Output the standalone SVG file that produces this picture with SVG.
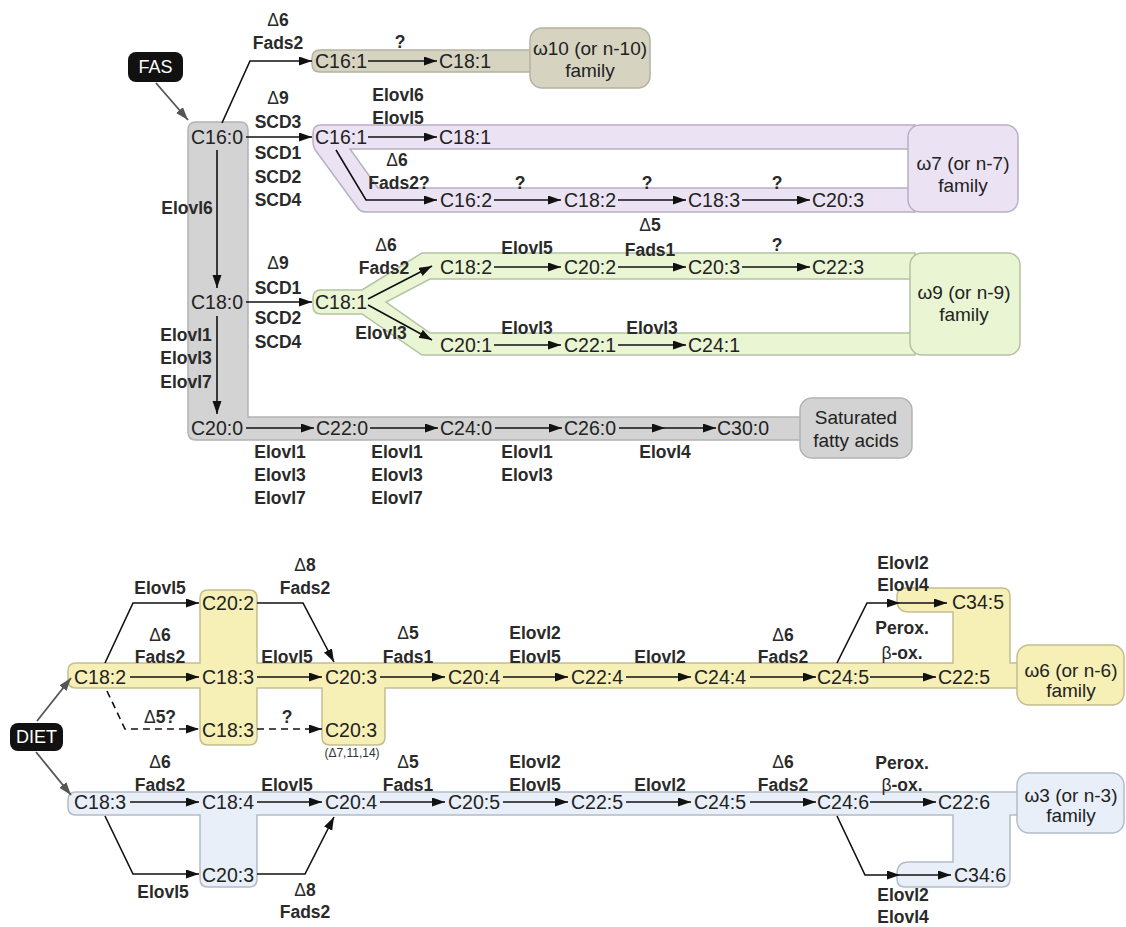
<svg xmlns="http://www.w3.org/2000/svg" width="1126" height="927" viewBox="0 0 1126 927">
<style>
.n{font-family:"Liberation Sans",Arial,sans-serif;font-size:19.5px;fill:#222;text-anchor:middle}
.f{font-family:"Liberation Sans",Arial,sans-serif;font-size:19px;fill:#222;text-anchor:middle}
.e{font-family:"Liberation Sans",Arial,sans-serif;font-size:17.5px;font-weight:bold;fill:#2a2a2a;text-anchor:middle}
.e tspan.r{font-weight:normal}
.sm{font-family:"Liberation Sans",Arial,sans-serif;font-size:12px;fill:#333;text-anchor:middle}
.w{font-family:"Liberation Sans",Arial,sans-serif;font-size:18px;fill:#fff;text-anchor:middle}
.c{stroke:#111;stroke-width:1.6;fill:none;marker-end:url(#ah)}
.d{stroke-dasharray:7 5}
.g{stroke:#555;stroke-width:1.8;fill:none;marker-end:url(#ahg)}
.b{stroke-width:1.5}
</style>
<defs>
<marker id="ah" markerUnits="userSpaceOnUse" markerWidth="14" markerHeight="10" refX="13" refY="4.5" orient="auto"><path d="M0,0 L13,4.5 L0,9 z" fill="#111"/></marker>
<marker id="ahg" markerUnits="userSpaceOnUse" markerWidth="14" markerHeight="10" refX="13" refY="4.5" orient="auto"><path d="M0,0 L13,4.5 L0,9 z" fill="#555"/></marker>
</defs>
<rect width="1126" height="927" fill="#fff"/>

<g id="bands">
<path class="b" d="M188,130 Q188,122 196,122 H240 Q248,122 248,130 V417 H805 V440 H196 Q188,440 188,432 Z" fill="#d3d3d3" stroke="#b3b3b3"/>
<path class="b" d="M320,50 H535 V72 H320 Q312,72 312,64 V58 Q312,50 320,50 Z" fill="#d6d4c1" stroke="#b4b2a0"/>
<path class="b" d="M321,125 H915 V149 H350 L378,188 H915 V212 H366 Q360,212 357,207 L316,151 Q313,147 313,141 V133 Q313,125 321,125 Z" fill="#ebe3f3" stroke="#b8b0c2"/>
<path class="b" d="M321,290 H362 L422,253 H915 V279 H430 L386,302 L430,333 H915 V355 H422 L362,314 H321 Q313,314 313,306 V298 Q313,290 321,290 Z" fill="#e9f5d3" stroke="#b3c2a3"/>
<path class="b" d="M76,663 H200 V598 Q200,590 208,590 H249 Q257,590 257,598 V663 H953 V612 H909 Q897,612 897,600 V596 Q897,588 905,588 H1002 Q1010,588 1010,596 V663 H1020 V688 H385 V737 Q385,745 377,745 H330 Q322,745 322,737 V688 H257 V737 Q257,745 249,745 H208 Q200,745 200,737 V688 H76 Q68,688 68,680 V671 Q68,663 76,663 Z" fill="#f7f0b6" stroke="#c4bd8e"/>
<path class="b" d="M76,792 H1020 V815 H1010 V879 Q1010,887 1002,887 H905 Q897,887 897,879 V874 Q897,862 909,862 H953 V815 H257 V879 Q257,887 249,887 H208 Q200,887 200,879 V815 H76 Q68,815 68,807 V800 Q68,792 76,792 Z" fill="#e8eff8" stroke="#b3bcc8"/>
</g>

<g id="connectors">
<path class="g" d="M156,83 L188,120"/>
<path class="c" d="M222,123 L250,61 L312,61"/>
<path class="c" d="M246,137 L312,137"/>
<path class="c" d="M217,150 L217,288"/>
<path class="c" d="M217,316 L217,414"/>
<path class="c" d="M246,302 L312,302"/>
<path class="c" d="M368,61 L437,61"/>
<path class="c" d="M368,137 L437,137"/>
<path class="c" d="M336,150 L366,200 L437,200"/>
<path class="c" d="M494,200 L561,200"/>
<path class="c" d="M618,200 L686,200"/>
<path class="c" d="M742,200 L810,200"/>
<path class="c" d="M368,299 L432,266"/>
<path class="c" d="M368,305 L432,340"/>
<path class="c" d="M494,267 L561,267"/>
<path class="c" d="M618,267 L686,267"/>
<path class="c" d="M742,267 L810,267"/>
<path class="c" d="M494,345 L561,345"/>
<path class="c" d="M618,345 L686,345"/>
<path class="c" d="M246,428 L314,428"/>
<path class="c" d="M370,428 L438,428"/>
<path class="c" d="M495,428 L562,428"/>
<path class="c" d="M619,428 L665,428"/>
<path class="c" d="M665,428 L716,428"/>

<path class="g" d="M37,721 L71,678"/>
<path class="g" d="M36,752 L71,795"/>
<path class="c" d="M130,677 L199,677"/>
<path class="c" d="M105,663 L133,603 L199,603"/>
<path class="c d" d="M107,691 L125,729 L199,729"/>
<path class="c" d="M257,677 L322,677"/>
<path class="c d" d="M257,729 L322,729"/>
<path class="c" d="M257,603 L303,603 L334,662"/>
<path class="c" d="M380,677 L445,677"/>
<path class="c" d="M503,677 L568,677"/>
<path class="c" d="M626,677 L691,677"/>
<path class="c" d="M750,677 L816,677"/>
<path class="c" d="M870,677 L936,677"/>
<path class="c" d="M837,663 L867,603 L900,603"/>
<path class="c" d="M900,603 L947,603"/>

<path class="c" d="M130,802 L199,802"/>
<path class="c" d="M257,802 L322,802"/>
<path class="c" d="M105,816 L133,874 L199,874"/>
<path class="c" d="M257,874 L305,874 L334,817"/>
<path class="c" d="M380,802 L445,802"/>
<path class="c" d="M503,802 L568,802"/>
<path class="c" d="M626,802 L691,802"/>
<path class="c" d="M750,802 L816,802"/>
<path class="c" d="M870,802 L936,802"/>
<path class="c" d="M837,816 L865,875 L900,875"/>
<path class="c" d="M900,875 L951,875"/>
</g>

<g id="fam-w10"><rect x="530" y="28" width="120" height="60" rx="12" fill="#d6d4c1" stroke="#b4b2a0" stroke-width="1.5"/><text class="f" x="590" y="55">ω10 (or n-10)</text><text class="f" x="590" y="77">family</text></g>
<g id="fam-w7"><rect x="908" y="125" width="110" height="87" rx="12" fill="#ebe3f3" stroke="#b8b0c2" stroke-width="1.5"/><text class="f" x="963" y="170">ω7 (or n-7)</text><text class="f" x="963" y="192">family</text></g>
<g id="fam-w9"><rect x="910" y="253" width="110" height="102" rx="12" fill="#e9f5d3" stroke="#b3c2a3" stroke-width="1.5"/><text class="f" x="964" y="299">ω9 (or n-9)</text><text class="f" x="964" y="321">family</text></g>
<g id="fam-sat"><rect x="800" y="398" width="112" height="60" rx="12" fill="#d3d3d3" stroke="#b3b3b3" stroke-width="1.5"/><text class="f" x="856" y="424">Saturated</text><text class="f" x="856" y="447">fatty acids</text></g>
<g id="fam-w6"><rect x="1017" y="645" width="107" height="60" rx="12" fill="#f7f0b6" stroke="#c4bd8e" stroke-width="1.5"/><text class="f" x="1071" y="677">ω6 (or n-6)</text><text class="f" x="1071" y="697">family</text></g>
<g id="fam-w3"><rect x="1017" y="773" width="107" height="60" rx="12" fill="#e8eff8" stroke="#b3bcc8" stroke-width="1.5"/><text class="f" x="1071" y="802">ω3 (or n-3)</text><text class="f" x="1071" y="822">family</text></g>

<g id="FAS"><rect x="128" y="52" width="55" height="30" rx="8" fill="#111"/><text class="w" x="155.5" y="73">FAS</text></g>
<g id="DIET"><rect x="10" y="723" width="53" height="28" rx="8" fill="#111"/><text class="w" x="36.5" y="743">DIET</text></g>

<g id="n-c16-0"><text class="n" x="217" y="144">C16:0</text></g>
<g id="n-c18-0"><text class="n" x="217" y="309">C18:0</text></g>
<g id="n-c20-0"><text class="n" x="217" y="435">C20:0</text></g>
<g id="n-w10-c16-1"><text class="n" x="341" y="68">C16:1</text></g>
<g id="n-w10-c18-1"><text class="n" x="465" y="68">C18:1</text></g>
<g id="n-w7-c16-1"><text class="n" x="341" y="144">C16:1</text></g>
<g id="n-w7-c18-1"><text class="n" x="465" y="144">C18:1</text></g>
<g id="n-w7-c16-2"><text class="n" x="466" y="207">C16:2</text></g>
<g id="n-w7-c18-2"><text class="n" x="590" y="207">C18:2</text></g>
<g id="n-w7-c18-3"><text class="n" x="714" y="207">C18:3</text></g>
<g id="n-w7-c20-3"><text class="n" x="838" y="207">C20:3</text></g>
<g id="n-w9-c18-1"><text class="n" x="341" y="309">C18:1</text></g>
<g id="n-w9-c18-2"><text class="n" x="466" y="274">C18:2</text></g>
<g id="n-w9-c20-2"><text class="n" x="590" y="274">C20:2</text></g>
<g id="n-w9-c20-3"><text class="n" x="714" y="274">C20:3</text></g>
<g id="n-w9-c22-3"><text class="n" x="838" y="274">C22:3</text></g>
<g id="n-w9-c20-1"><text class="n" x="466" y="352">C20:1</text></g>
<g id="n-w9-c22-1"><text class="n" x="590" y="352">C22:1</text></g>
<g id="n-w9-c24-1"><text class="n" x="714" y="352">C24:1</text></g>
<g id="n-c22-0"><text class="n" x="342" y="435">C22:0</text></g>
<g id="n-c24-0"><text class="n" x="466" y="435">C24:0</text></g>
<g id="n-c26-0"><text class="n" x="590" y="435">C26:0</text></g>
<g id="n-c30-0"><text class="n" x="743" y="435">C30:0</text></g>

<g id="n-w6-c18-2"><text class="n" x="100" y="684">C18:2</text></g>
<g id="n-w6-c20-2"><text class="n" x="228" y="610">C20:2</text></g>
<g id="n-w6-c18-3"><text class="n" x="228" y="684">C18:3</text></g>
<g id="n-w6-c18-3b"><text class="n" x="228" y="737">C18:3</text></g>
<g id="n-w6-c20-3"><text class="n" x="351" y="684">C20:3</text></g>
<g id="n-w6-c20-3b"><text class="n" x="351" y="737">C20:3</text><text class="sm" x="352" y="757">(Δ7,11,14)</text></g>
<g id="n-w6-c20-4"><text class="n" x="474" y="684">C20:4</text></g>
<g id="n-w6-c22-4"><text class="n" x="597" y="684">C22:4</text></g>
<g id="n-w6-c24-4"><text class="n" x="720" y="684">C24:4</text></g>
<g id="n-w6-c24-5"><text class="n" x="843" y="684">C24:5</text></g>
<g id="n-w6-c22-5"><text class="n" x="964" y="684">C22:5</text></g>
<g id="n-w6-c34-5"><text class="n" x="978" y="609">C34:5</text></g>

<g id="n-w3-c18-3"><text class="n" x="100" y="809">C18:3</text></g>
<g id="n-w3-c18-4"><text class="n" x="228" y="809">C18:4</text></g>
<g id="n-w3-c20-3"><text class="n" x="228" y="882">C20:3</text></g>
<g id="n-w3-c20-4"><text class="n" x="351" y="809">C20:4</text></g>
<g id="n-w3-c20-5"><text class="n" x="474" y="809">C20:5</text></g>
<g id="n-w3-c22-5"><text class="n" x="597" y="809">C22:5</text></g>
<g id="n-w3-c24-5"><text class="n" x="720" y="809">C24:5</text></g>
<g id="n-w3-c24-6"><text class="n" x="843" y="809">C24:6</text></g>
<g id="n-w3-c22-6"><text class="n" x="964" y="809">C22:6</text></g>
<g id="n-w3-c34-6"><text class="n" x="980" y="882">C34:6</text></g>

<g id="labels">
<text class="e" x="278" y="26"><tspan class="r">Δ</tspan>6</text>
<text class="e" x="278" y="49">Fads2</text>
<text class="e" x="400" y="48">?</text>
<text class="e" x="278" y="104"><tspan class="r">Δ</tspan>9</text>
<text class="e" x="278" y="128">SCD3</text>
<text class="e" x="278" y="159">SCD1</text>
<text class="e" x="278" y="183">SCD2</text>
<text class="e" x="278" y="206">SCD4</text>
<text class="e" x="187" y="214">Elovl6</text>
<text class="e" x="398" y="101">Elovl6</text>
<text class="e" x="398" y="124">Elovl5</text>
<text class="e" x="397" y="166"><tspan class="r">Δ</tspan>6</text>
<text class="e" x="399" y="189">Fads2?</text>
<text class="e" x="520" y="189">?</text>
<text class="e" x="647" y="189">?</text>
<text class="e" x="777" y="189">?</text>
<text class="e" x="278" y="269"><tspan class="r">Δ</tspan>9</text>
<text class="e" x="278" y="294">SCD1</text>
<text class="e" x="278" y="324">SCD2</text>
<text class="e" x="278" y="348">SCD4</text>
<text class="e" x="186" y="341">Elovl1</text>
<text class="e" x="186" y="364">Elovl3</text>
<text class="e" x="186" y="388">Elovl7</text>
<text class="e" x="386" y="251"><tspan class="r">Δ</tspan>6</text>
<text class="e" x="384" y="274">Fads2</text>
<text class="e" x="381" y="339">Elovl3</text>
<text class="e" x="527" y="254">Elovl5</text>
<text class="e" x="650" y="231"><tspan class="r">Δ</tspan>5</text>
<text class="e" x="650" y="256">Fads1</text>
<text class="e" x="777" y="251">?</text>
<text class="e" x="527" y="334">Elovl3</text>
<text class="e" x="652" y="334">Elovl3</text>
<text class="e" x="280" y="458">Elovl1</text>
<text class="e" x="280" y="481">Elovl3</text>
<text class="e" x="280" y="504">Elovl7</text>
<text class="e" x="397" y="458">Elovl1</text>
<text class="e" x="397" y="481">Elovl3</text>
<text class="e" x="397" y="504">Elovl7</text>
<text class="e" x="527" y="458">Elovl1</text>
<text class="e" x="527" y="481">Elovl3</text>
<text class="e" x="665" y="458">Elovl4</text>

<text class="e" x="160" y="594">Elovl5</text>
<text class="e" x="305" y="571"><tspan class="r">Δ</tspan>8</text>
<text class="e" x="305" y="594">Fads2</text>
<text class="e" x="160" y="641"><tspan class="r">Δ</tspan>6</text>
<text class="e" x="160" y="663">Fads2</text>
<text class="e" x="287" y="663">Elovl5</text>
<text class="e" x="160" y="723"><tspan class="r">Δ</tspan>5?</text>
<text class="e" x="287" y="723">?</text>
<text class="e" x="408" y="639"><tspan class="r">Δ</tspan>5</text>
<text class="e" x="408" y="663">Fads1</text>
<text class="e" x="535" y="639">Elovl2</text>
<text class="e" x="535" y="663">Elovl5</text>
<text class="e" x="660" y="663">Elovl2</text>
<text class="e" x="783" y="641"><tspan class="r">Δ</tspan>6</text>
<text class="e" x="783" y="663">Fads2</text>
<text class="e" x="902" y="634">Perox.</text>
<text class="e" x="902" y="659"><tspan class="r">β</tspan>-ox.</text>
<text class="e" x="903" y="569">Elovl2</text>
<text class="e" x="903" y="591">Elovl4</text>

<text class="e" x="160" y="768"><tspan class="r">Δ</tspan>6</text>
<text class="e" x="160" y="791">Fads2</text>
<text class="e" x="287" y="791">Elovl5</text>
<text class="e" x="163" y="898">Elovl5</text>
<text class="e" x="305" y="896"><tspan class="r">Δ</tspan>8</text>
<text class="e" x="305" y="918">Fads2</text>
<text class="e" x="408" y="768"><tspan class="r">Δ</tspan>5</text>
<text class="e" x="408" y="791">Fads1</text>
<text class="e" x="535" y="768">Elovl2</text>
<text class="e" x="535" y="791">Elovl5</text>
<text class="e" x="660" y="791">Elovl2</text>
<text class="e" x="783" y="768"><tspan class="r">Δ</tspan>6</text>
<text class="e" x="783" y="791">Fads2</text>
<text class="e" x="902" y="769">Perox.</text>
<text class="e" x="902" y="791"><tspan class="r">β</tspan>-ox.</text>
<text class="e" x="903" y="901">Elovl2</text>
<text class="e" x="903" y="923">Elovl4</text>
</g>
</svg>
